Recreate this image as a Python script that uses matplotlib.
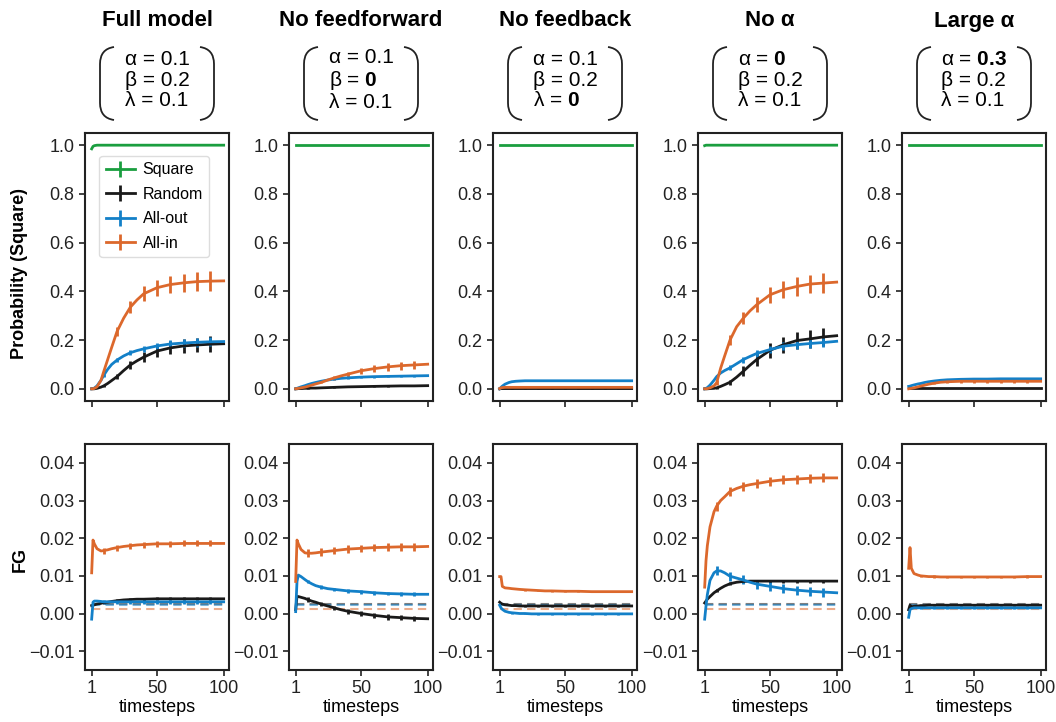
import numpy as np
import matplotlib.pyplot as plt
from matplotlib.path import Path
from matplotlib.patches import PathPatch

plt.rcParams['font.family'] = ['Liberation Sans', 'DejaVu Sans']
plt.rcParams['mathtext.fontset'] = 'custom'
plt.rcParams['mathtext.rm'] = 'Liberation Sans'
plt.rcParams['mathtext.bf'] = 'Liberation Sans:bold'

models = ["Full model", "No feedforward", "No feedback", "No α", "Large α"]
alpha_vals = ["0.1", "0.1", "0.1", "0", "0.3"]
beta_vals = ["0.2", "0", "0.2", "0.2", "0.2"]
lambda_vals = ["0.1", "0.1", "0", "0.1", "0.1"]
changed = [None, "β", "λ", "α", "α"]

series = ["Square", "Random", "All-out", "All-in"]
colors = ["#1a9e3f", "#1a1a1a", "#1380c8", "#dc682c"]

timesteps = [1, 2, 3, 5, 8, 10, 13, 16, 20, 25, 30, 35, 40, 50, 60, 70, 80, 90, 100]
err_steps = [10, 20, 30, 40, 50, 60, 70, 80, 90]

# ---- top row: probability of "Square" response ----
prob_square = [
    [0.985, 0.995, 0.998, 1, 1, 1, 1, 1, 1, 1, 1, 1, 1, 1, 1, 1, 1, 1, 1],
    [1, 1, 1, 1, 1, 1, 1, 1, 1, 1, 1, 1, 1, 1, 1, 1, 1, 1, 1],
    [1, 1, 1, 1, 1, 1, 1, 1, 1, 1, 1, 1, 1, 1, 1, 1, 1, 1, 1],
    [0.998, 1, 1, 1, 1, 1, 1, 1, 1, 1, 1, 1, 1, 1, 1, 1, 1, 1, 1],
    [1, 1, 1, 1, 1, 1, 1, 1, 1, 1, 1, 1, 1, 1, 1, 1, 1, 1, 1],
]
prob_random = [
    [0, 0, 0, 0.002, 0.007, 0.012, 0.022, 0.034, 0.05, 0.075, 0.098, 0.115, 0.13, 0.155, 0.168, 0.176, 0.18, 0.183, 0.185],
    [0, 0, 0.001, 0.001, 0.002, 0.002, 0.003, 0.003, 0.004, 0.005, 0.006, 0.007, 0.008, 0.009, 0.01, 0.011, 0.012, 0.012, 0.013],
    [0, 0.001, 0.001, 0.001, 0.001, 0.001, 0.001, 0.001, 0.001, 0.001, 0.001, 0.001, 0.001, 0.001, 0.001, 0.001, 0.001, 0.001, 0.001],
    [0, 0, 0, 0.001, 0.002, 0.004, 0.01, 0.017, 0.027, 0.048, 0.072, 0.097, 0.12, 0.158, 0.181, 0.198, 0.205, 0.213, 0.218],
    [0.003, 0.003, 0.003, 0.003, 0.003, 0.003, 0.003, 0.003, 0.003, 0.003, 0.003, 0.003, 0.003, 0.003, 0.003, 0.003, 0.003, 0.003, 0.003],
]
prob_allout = [
    [0, 0.001, 0.003, 0.012, 0.035, 0.055, 0.08, 0.1, 0.118, 0.135, 0.148, 0.157, 0.164, 0.176, 0.184, 0.188, 0.191, 0.193, 0.194],
    [0, 0.002, 0.004, 0.008, 0.013, 0.017, 0.022, 0.026, 0.031, 0.036, 0.04, 0.043, 0.045, 0.048, 0.05, 0.051, 0.052, 0.053, 0.054],
    [0, 0.006, 0.011, 0.019, 0.026, 0.029, 0.031, 0.032, 0.033, 0.033, 0.033, 0.033, 0.033, 0.033, 0.033, 0.033, 0.033, 0.033, 0.033],
    [0, 0.002, 0.005, 0.015, 0.035, 0.05, 0.065, 0.075, 0.086, 0.103, 0.12, 0.133, 0.145, 0.161, 0.175, 0.181, 0.186, 0.19, 0.195],
    [0.01, 0.011, 0.013, 0.016, 0.02, 0.022, 0.026, 0.029, 0.032, 0.035, 0.037, 0.038, 0.039, 0.04, 0.04, 0.041, 0.041, 0.041, 0.041],
]
prob_allin = [
    [0, 0, 0.002, 0.008, 0.035, 0.07, 0.12, 0.17, 0.235, 0.29, 0.335, 0.365, 0.39, 0.415, 0.428, 0.435, 0.44, 0.442, 0.443],
    [0, 0.001, 0.002, 0.004, 0.007, 0.01, 0.015, 0.02, 0.026, 0.036, 0.045, 0.053, 0.06, 0.074, 0.083, 0.09, 0.095, 0.098, 0.101],
    [0.001, 0.004, 0.005, 0.006, 0.006, 0.006, 0.006, 0.006, 0.006, 0.006, 0.006, 0.006, 0.006, 0.006, 0.006, 0.006, 0.006, 0.006, 0.006],
    [0, 0, 0.001, 0.004, 0.012, 0.025, 0.085, 0.135, 0.2, 0.255, 0.29, 0.32, 0.345, 0.386, 0.407, 0.42, 0.43, 0.434, 0.438],
    [0, 0.001, 0.002, 0.004, 0.008, 0.011, 0.015, 0.019, 0.023, 0.027, 0.029, 0.03, 0.031, 0.031, 0.031, 0.031, 0.031, 0.031, 0.031],
]
prob_random_err = [
    [0.005, 0.01, 0.015, 0.02, 0.025, 0.027, 0.03, 0.03, 0.032],
    [0.001, 0.001, 0.002, 0.002, 0.002, 0.002, 0.002, 0.002, 0.002],
    [0.001, 0.001, 0.001, 0.001, 0.001, 0.001, 0.001, 0.001, 0.001],
    [0.003, 0.01, 0.02, 0.025, 0.03, 0.032, 0.035, 0.037, 0.038],
    [0.001, 0.001, 0.001, 0.001, 0.001, 0.001, 0.001, 0.001, 0.001],
]
prob_allout_err = [
    [0.005, 0.008, 0.01, 0.012, 0.014, 0.015, 0.016, 0.018, 0.018],
    [0.002, 0.003, 0.003, 0.004, 0.004, 0.004, 0.004, 0.004, 0.004],
    [0.001, 0.001, 0.001, 0.001, 0.001, 0.001, 0.001, 0.001, 0.001],
    [0.006, 0.01, 0.012, 0.014, 0.015, 0.016, 0.017, 0.018, 0.018],
    [0.002, 0.002, 0.002, 0.002, 0.002, 0.002, 0.002, 0.002, 0.002],
]
prob_allin_err = [
    [0.01, 0.02, 0.025, 0.03, 0.032, 0.035, 0.037, 0.04, 0.04],
    [0.002, 0.004, 0.008, 0.01, 0.012, 0.014, 0.015, 0.017, 0.018],
    [0.001, 0.001, 0.001, 0.001, 0.001, 0.001, 0.001, 0.001, 0.001],
    [0.01, 0.02, 0.025, 0.03, 0.033, 0.035, 0.037, 0.038, 0.04],
    [0.003, 0.005, 0.006, 0.006, 0.006, 0.006, 0.006, 0.006, 0.006],
]

# ---- bottom row: FG ----
fg_random = [
    [0.0021, 0.0022, 0.0023, 0.0025, 0.0027, 0.0029, 0.003, 0.0032, 0.0034, 0.0036, 0.0037, 0.0038, 0.0038, 0.0039, 0.0039, 0.0039, 0.0039, 0.0039, 0.0039],
    [0.001, 0.0045, 0.0045, 0.0043, 0.004, 0.0037, 0.0033, 0.003, 0.0025, 0.002, 0.0015, 0.001, 0.0006, 0.0, -0.0005, -0.0009, -0.0011, -0.0013, -0.0014],
    [0.003, 0.0027, 0.0025, 0.0023, 0.0022, 0.0021, 0.0021, 0.002, 0.002, 0.002, 0.002, 0.002, 0.002, 0.002, 0.002, 0.002, 0.002, 0.002, 0.002],
    [0.0028, 0.0033, 0.0038, 0.0045, 0.0055, 0.006, 0.0067, 0.0073, 0.0079, 0.0083, 0.0085, 0.0086, 0.0086, 0.0086, 0.0086, 0.0086, 0.0086, 0.0086, 0.0086],
    [0.001, 0.0022, 0.0018, 0.0019, 0.002, 0.0021, 0.0021, 0.0022, 0.0022, 0.0022, 0.0022, 0.0022, 0.0022, 0.0022, 0.0022, 0.0022, 0.0022, 0.0022, 0.0022],
]
fg_allout = [
    [-0.0015, 0.003, 0.0033, 0.0033, 0.0032, 0.0031, 0.0031, 0.0031, 0.0031, 0.0031, 0.0031, 0.0031, 0.0031, 0.0031, 0.0031, 0.0031, 0.0031, 0.0031, 0.0031],
    [0.0005, 0.0085, 0.0102, 0.0098, 0.009, 0.0085, 0.0079, 0.0074, 0.007, 0.0066, 0.0064, 0.0062, 0.006, 0.0058, 0.0055, 0.0053, 0.0052, 0.0051, 0.0051],
    [0.0022, 0.0015, 0.0011, 0.0006, 0.0003, 0.0002, 0.0001, 0.0, 0.0, -0.0001, -0.0001, -0.0001, -0.0001, -0.0001, -0.0001, -0.0001, -0.0001, -0.0001, -0.0001],
    [-0.0015, 0.002, 0.005, 0.0088, 0.0108, 0.0113, 0.0113, 0.0108, 0.0099, 0.0094, 0.0089, 0.0083, 0.0078, 0.0072, 0.0066, 0.0062, 0.0059, 0.0057, 0.0055],
    [-0.001, 0.001, 0.0013, 0.0015, 0.0015, 0.0015, 0.0015, 0.0015, 0.0015, 0.0015, 0.0015, 0.0015, 0.0015, 0.0015, 0.0015, 0.0015, 0.0015, 0.0015, 0.0015],
]
fg_allin = [
    [0.0108, 0.0195, 0.0185, 0.0172, 0.0166, 0.0167, 0.0169, 0.0172, 0.0175, 0.0178, 0.018, 0.0182, 0.0183, 0.0185, 0.0185, 0.0186, 0.0186, 0.0186, 0.0186],
    [0.0085, 0.0195, 0.0185, 0.017, 0.0161, 0.016, 0.016, 0.0161, 0.0163, 0.0165, 0.0167, 0.0169, 0.0171, 0.0173, 0.0175, 0.0176, 0.0177, 0.0177, 0.0178],
    [0.0098, 0.0098, 0.0072, 0.0068, 0.0067, 0.0066, 0.0065, 0.0064, 0.0063, 0.0062, 0.0061, 0.006, 0.006, 0.0059, 0.0059, 0.0058, 0.0058, 0.0058, 0.0058],
    [0.007, 0.014, 0.018, 0.023, 0.027, 0.0285, 0.03, 0.031, 0.0324, 0.0332, 0.0338, 0.0342, 0.0345, 0.0351, 0.0355, 0.0357, 0.0359, 0.036, 0.036],
    [0.012, 0.0175, 0.012, 0.0106, 0.0102, 0.01, 0.0099, 0.0098, 0.0098, 0.0097, 0.0097, 0.0097, 0.0097, 0.0097, 0.0097, 0.0097, 0.0097, 0.0098, 0.0098],
]
fg_random_err = [
    [0.0004, 0.0004, 0.0004, 0.0004, 0.0004, 0.0004, 0.0004, 0.0004, 0.0004],
    [0.0006, 0.0006, 0.0006, 0.0007, 0.0007, 0.0007, 0.0007, 0.0007, 0.0007],
    [0.0002, 0.0002, 0.0002, 0.0002, 0.0002, 0.0002, 0.0002, 0.0002, 0.0002],
    [0.0004, 0.0004, 0.0004, 0.0004, 0.0004, 0.0004, 0.0004, 0.0004, 0.0004],
    [0.0002, 0.0002, 0.0002, 0.0002, 0.0002, 0.0002, 0.0002, 0.0002, 0.0002],
]
fg_allout_err = [
    [0.0005, 0.0005, 0.0005, 0.0005, 0.0005, 0.0005, 0.0005, 0.0005, 0.0005],
    [0.0005, 0.0005, 0.0005, 0.0005, 0.0005, 0.0005, 0.0005, 0.0005, 0.0005],
    [0.0002, 0.0002, 0.0002, 0.0002, 0.0002, 0.0002, 0.0002, 0.0002, 0.0002],
    [0.0012, 0.0012, 0.0012, 0.0012, 0.0012, 0.0012, 0.0012, 0.0012, 0.0012],
    [0.0002, 0.0002, 0.0002, 0.0002, 0.0002, 0.0002, 0.0002, 0.0002, 0.0002],
]
fg_allin_err = [
    [0.0008, 0.0008, 0.0008, 0.0008, 0.0008, 0.0008, 0.0008, 0.0008, 0.0008],
    [0.001, 0.001, 0.001, 0.001, 0.001, 0.001, 0.001, 0.001, 0.001],
    [0.0002, 0.0002, 0.0002, 0.0002, 0.0002, 0.0002, 0.0002, 0.0002, 0.0002],
    [0.0012, 0.0012, 0.0012, 0.0012, 0.0012, 0.0012, 0.0012, 0.0012, 0.0012],
    [0.0003, 0.0003, 0.0003, 0.0003, 0.0003, 0.0003, 0.0003, 0.0003, 0.0003],
]
# baseline FG levels (dashed): Random, All-out, All-in
fg_baseline = [0.0025, 0.0022, 0.0012]

W, H = 1056, 722
fig = plt.figure(figsize=(W / 100, H / 100), dpi=100)

t = np.array(timesteps)
mask = np.isin(t, err_steps)


def full_err(err):
    e = np.zeros(len(t))
    e[mask] = err
    return e


def draw(ax, y, err, color, label=None):
    ax.errorbar(t, y, yerr=full_err(err), errorevery=mask, color=color,
                lw=2, elinewidth=2, capsize=0, label=label)


def style(ax):
    for s in ax.spines.values():
        s.set_linewidth(1.5)
        s.set_color('#222222')
    ax.tick_params(direction='out', length=4, width=1.2, labelsize=13, colors='#222222')
    ax.set_xlim(-4, 104)
    ax.set_xticks([1, 50, 100])


def paren(cx, side):
    xe = cx + side * 43
    xm = cx + side * 57
    pts = [(xe, 47), (xm, 49), (xm, 64), (xm, 103), (xm, 118), (xe, 120)]
    verts = [(x / W, 1 - y / H) for x, y in pts]
    codes = [Path.MOVETO, Path.CURVE3, Path.CURVE3, Path.LINETO, Path.CURVE3, Path.CURVE3]
    fig.add_artist(PathPatch(Path(verts, codes), fill=False, lw=1.3,
                             edgecolor='#222222', transform=fig.transFigure))


lefts = [85, 289, 493, 698, 902]
aw = 144
for i in range(5):
    l = lefts[i] / W
    ax1 = fig.add_axes([l, 1 - 401 / H, aw / W, 268 / H])
    ax2 = fig.add_axes([l, 1 - 670 / H, aw / W, 226 / H])

    zeros = [0] * len(err_steps)
    draw(ax1, prob_square[i], zeros, colors[0], series[0])
    draw(ax1, prob_random[i], prob_random_err[i], colors[1], series[1])
    draw(ax1, prob_allout[i], prob_allout_err[i], colors[2], series[2])
    draw(ax1, prob_allin[i], prob_allin_err[i], colors[3], series[3])
    style(ax1)
    ax1.set_ylim(-0.05, 1.05)
    ax1.set_yticks([0, 0.2, 0.4, 0.6, 0.8, 1.0])
    ax1.set_yticklabels(['0.0', '0.2', '0.4', '0.6', '0.8', '1.0'])
    ax1.set_xticklabels([])

    for val, c in zip(fg_baseline, colors[1:]):
        ax2.plot([1, 100], [val, val], ls='--', color=c, alpha=0.55, lw=1.5, dashes=(4, 2.5))
    draw(ax2, fg_random[i], fg_random_err[i], colors[1])
    draw(ax2, fg_allout[i], fg_allout_err[i], colors[2])
    draw(ax2, fg_allin[i], fg_allin_err[i], colors[3])
    style(ax2)
    ax2.set_ylim(-0.015, 0.045)
    ax2.set_yticks([-0.01, 0, 0.01, 0.02, 0.03, 0.04])
    ax2.set_yticklabels(['\u22120.01', '0.00', '0.01', '0.02', '0.03', '0.04'])
    ax2.set_xticklabels(['1', '50', '100'])
    ax2.set_xlabel('timesteps', fontsize=13, labelpad=1)

    if i == 0:
        ax1.legend(loc='upper left', bbox_to_anchor=(0.1, 0.915), borderaxespad=0,
                   fontsize=11.5, handlelength=1.8, handletextpad=0.5,
                   labelspacing=0.6, framealpha=1, edgecolor='#dddddd')

    cx = lefts[i] + aw / 2
    fig.text(cx / W, 1 - 21 / H, models[i], ha='center', va='center',
             fontsize=16, fontweight='bold')
    vals = {"α": alpha_vals[i], "β": beta_vals[i], "λ": lambda_vals[i]}
    lines = []
    for sym in ["α", "β", "λ"]:
        v = vals[sym]
        if changed[i] == sym:
            v = r"$\mathbf{" + v + "}$"
        lines.append(sym + " = " + v)
    fig.text(cx / W, 1 - 80 / H, "\n".join(lines), ha='center', va='center',
             ma='left', fontsize=15, linespacing=1.1)
    paren(cx, -1)
    paren(cx, 1)

fig.text(20 / W, 1 - 273 / H, 'Probability (Square)', rotation=90, ha='center',
         va='center', fontsize=13, fontweight='bold')
fig.text(20 / W, 1 - 559 / H, 'FG', rotation=90, ha='center', va='center',
         fontsize=13, fontweight='bold')

fig.savefig('out.png', dpi=100)
